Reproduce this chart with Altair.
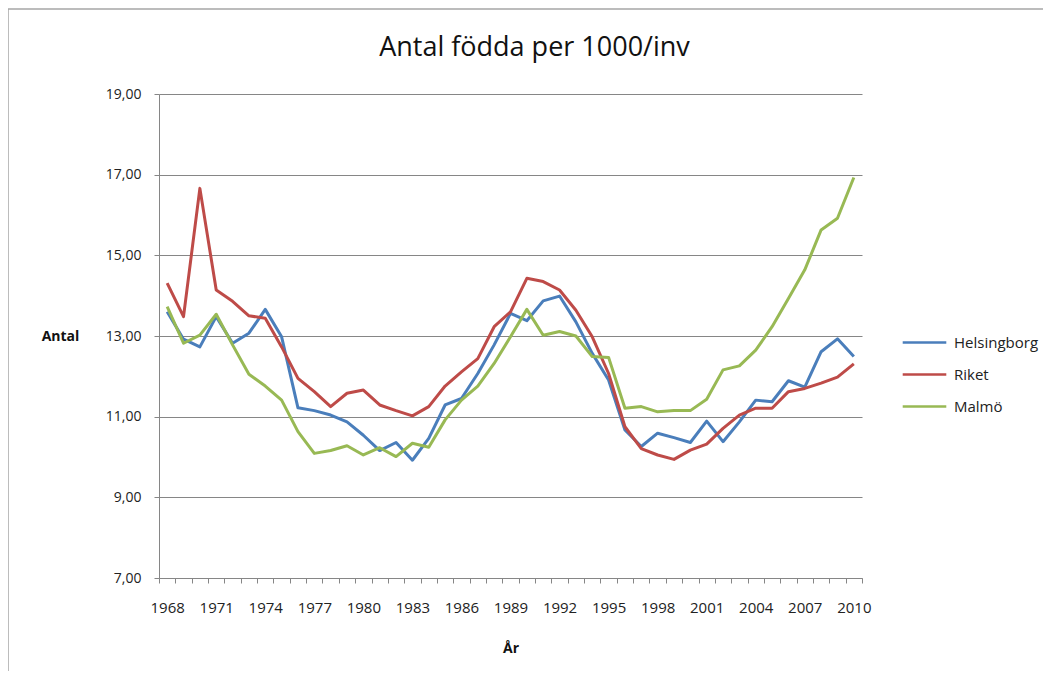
import altair as alt
import pandas as pd

years = list(range(1968, 2011))
helsingborg = [13.60, 12.92, 12.73, 13.48, 12.82, 13.07, 13.66, 12.98, 11.22, 11.15,
               11.04, 10.87, 10.54, 10.16, 10.36, 9.92, 10.46, 11.29, 11.45, 12.07,
               12.78, 13.56, 13.38, 13.87, 13.99, 13.35, 12.57, 11.91, 10.67, 10.26,
               10.59, 10.48, 10.36, 10.89, 10.38, 10.87, 11.41, 11.37, 11.89, 11.73,
               12.61, 12.93, 12.49]
riket = [14.31, 13.48, 16.66, 14.14, 13.86, 13.50, 13.44, 12.73, 11.95, 11.62,
         11.25, 11.58, 11.66, 11.29, 11.15, 11.02, 11.25, 11.76, 12.11, 12.44,
         13.23, 13.60, 14.43, 14.35, 14.14, 13.64, 12.98, 12.07, 10.75, 10.21,
         10.05, 9.94, 10.17, 10.32, 10.71, 11.04, 11.21, 11.21, 11.62, 11.70,
         11.83, 11.98, 12.31]
malmo = [13.73, 12.82, 13.02, 13.54, 12.78, 12.05, 11.76, 11.41, 10.63, 10.09,
         10.16, 10.28, 10.05, 10.23, 10.01, 10.34, 10.24, 10.92, 11.41, 11.76,
         12.32, 12.98, 13.66, 13.02, 13.11, 13.00, 12.49, 12.47, 11.21, 11.25,
         11.12, 11.15, 11.15, 11.43, 12.16, 12.26, 12.65, 13.23, 13.93, 14.64,
         15.63, 15.92, 16.93]
series_names = ["Helsingborg", "Riket", "Malmö"]
series_colors = ["#4A7EBB", "#BE4B48", "#98B954"]

rows = []
for name, vals in zip(series_names, [helsingborg, riket, malmo]):
    for y, v in zip(years, vals):
        rows.append({"År": y, "Antal": v, "Serie": name})
df = pd.DataFrame(rows)

FONT = "Open Sans"

lines = alt.Chart(df).mark_line(strokeWidth=3, strokeJoin="round").encode(
    x=alt.X("År:O",
            scale=alt.Scale(type="band", paddingInner=0, paddingOuter=0),
            axis=alt.Axis(
                title="År", tickBand="extent", labelAngle=0, labelOverlap=False,
                labelExpr="(datum.value - 1968) % 3 == 0 ? datum.label : ''",
                labelFont=FONT, labelFontSize=15, labelColor="#222222",
                labelPadding=17, tickSize=5, tickColor="#868686",
                domainColor="#868686", grid=False,
                titleFont=FONT, titleFontSize=14, titleFontWeight="bold",
                titleColor="#111111", titleY=70, titleBaseline="middle")),
    y=alt.Y("Antal:Q",
            scale=alt.Scale(domain=[7, 19], nice=False, zero=False),
            axis=alt.Axis(
                values=[7, 9, 11, 13, 15, 17, 19],
                labelExpr="replace(format(datum.value, '.2f'), '.', ',')",
                labelFont=FONT, labelFontSize=14, labelColor="#222222",
                labelPadding=13, tickSize=5, tickColor="#868686",
                domainColor="#868686", gridColor="#868686", gridWidth=1,
                title="Antal", titleAngle=0, titleX=-99, titleY=242,
                titleAlign="center", titleBaseline="middle",
                titleFont=FONT, titleFontSize=14, titleFontWeight="bold",
                titleColor="#111111")),
    color=alt.Color("Serie:N",
                    scale=alt.Scale(domain=series_names, range=series_colors),
                    sort=series_names,
                    legend=alt.Legend(
                        title=None, orient="none", legendX=742, legendY=225,
                        symbolType="stroke", symbolSize=1900, symbolStrokeWidth=2.5,
                        labelFont=FONT, labelFontSize=15, labelColor="#222222",
                        rowPadding=-8, padding=0, labelOffset=6)),
)

frame = alt.Chart(pd.DataFrame({"k": [0]})).mark_rect(
    fill="transparent", stroke="#A6A6A6", strokeWidth=1.5
).encode(
    x=alt.value(-151), x2=alt.value(900), y=alt.value(-85), y2=alt.value(584)
)

chart = alt.layer(frame, lines).properties(
    width=703, height=484,
    title=alt.TitleParams("Antal födda per 1000/inv", font=FONT, fontSize=27,
                          fontWeight="normal", color="#111111", anchor="middle",
                          dx=24, offset=-54),
    autosize=alt.AutoSizeParams(type="none"),
    padding={"left": 151, "top": 86, "right": 181, "bottom": 93},
).configure_view(stroke=None)

chart.save("out.html", embed_options={"renderer": "svg", "actions": False})
